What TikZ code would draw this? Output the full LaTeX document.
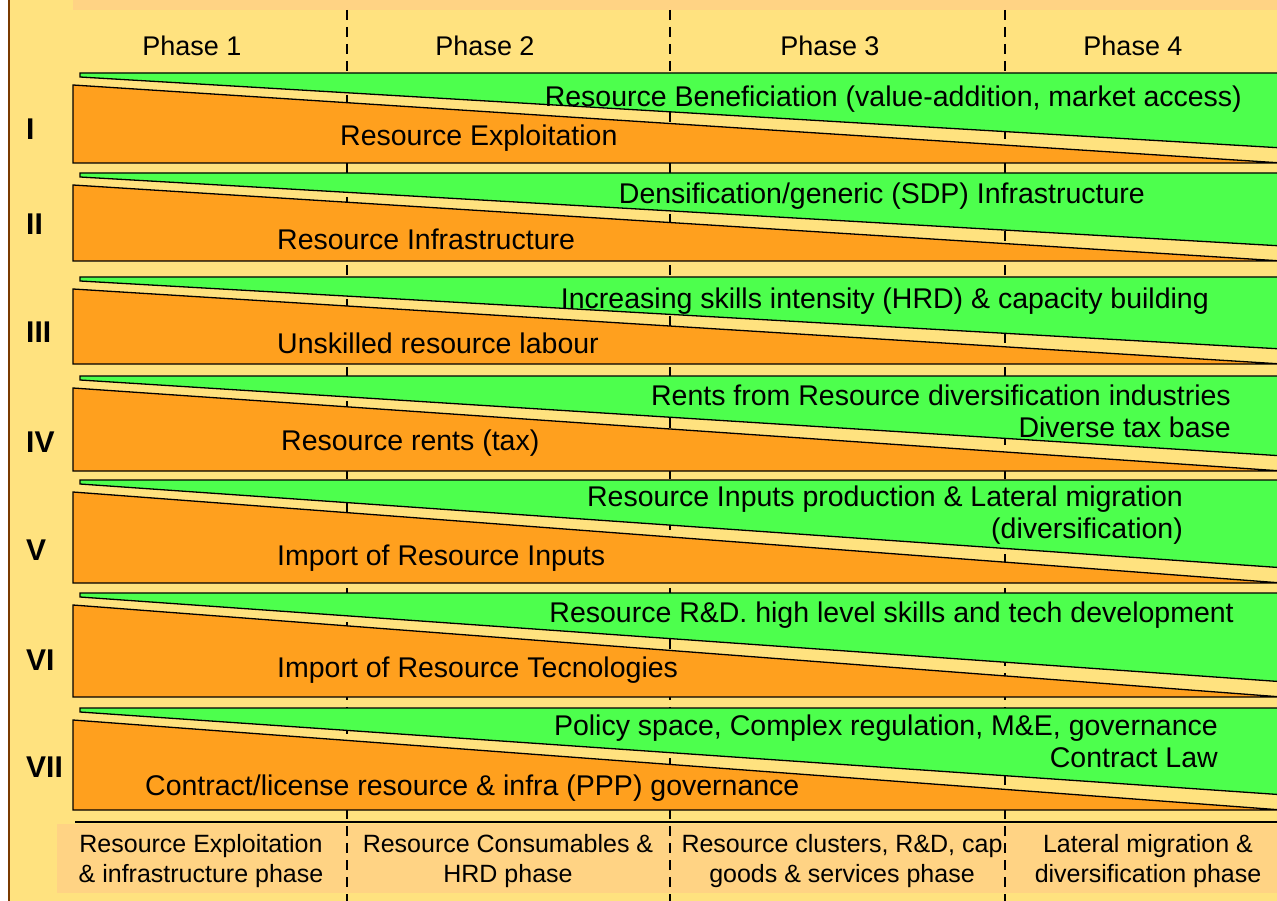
\documentclass[tikz,border=0pt]{standalone}
\usepackage{fontspec}
\setmainfont{Liberation Sans}
\definecolor{bgyellow}{HTML}{FFE27F}
\definecolor{bandorange}{HTML}{FFD384}
\definecolor{leafgreen}{HTML}{4DFF4D}
\definecolor{resorange}{HTML}{FFA01E}
\definecolor{edgebrown}{HTML}{7A3A00}

\begin{document}
\begin{tikzpicture}[x=1pt,y=-1pt,
    greenpart/.style={fill=leafgreen,draw=black,line width=1.3pt},
    orangepart/.style={fill=resorange,draw=black,line width=1.3pt},
    phaselabel/.style={font=\fontsize{27}{30}\selectfont,inner sep=0pt},
    rowtext/.style={font=\fontsize{28.5}{32}\selectfont,inner sep=0pt},
    rownum/.style={font=\fontsize{30}{32}\selectfont\bfseries,anchor=west,inner sep=0pt},
    phasefoot/.style={font=\fontsize{25}{30}\selectfont,align=center,inner sep=0pt}]
    \useasboundingbox (0,0) rectangle (1277,901);
    \clip (0,0) rectangle (1277,901);
    \fill[white] (0,0) rectangle (1277,901);
    \fill[bgyellow] (9,0) rectangle (1277,901);
    \draw[edgebrown,line width=2pt] (9,0) -- (9,901);
    \fill[bandorange] (73,0) rectangle (1277,10);
    \fill[bandorange] (57,824) rectangle (1277,893);
    % phase borders
    \foreach \xx in {347,670,1005}
        \draw[dash pattern=on 10pt off 7pt,line width=1.5pt] (\xx,10) -- (\xx,901);
    \draw[line width=1.5pt] (75,822) -- (1277,822);
    % green / orange bands
    \foreach \T/\B in {73/163,173/261,277/364,376/471,480/583,593/697,708/810} {
        \draw[greenpart] (80,\T) -- (1300,\T) -- (1300,{\B-14}) -- (80,{\T+4}) -- cycle;
        \draw[orangepart] (73,{\T+12}) -- (1282,\B) -- (73,\B) -- cycle;
    }
    \node[phaselabel] (ph1) at (192,46) {Phase 1};
    \node[phaselabel] (ph2) at (485,46) {Phase 2};
    \node[phaselabel] (ph3) at (830,46) {Phase 3};
    \node[phaselabel] (ph4) at (1133,46) {Phase 4};
    \node[rownum] (nI) at (26,129) {I};
    \node[rownum] (nII) at (26,224) {II};
    \node[rownum] (nIII) at (26,332) {III};
    \node[rownum] (nIV) at (26,442) {IV};
    \node[rownum] (nV) at (26,550) {V};
    \node[rownum] (nVI) at (26,660) {VI};
    \node[rownum] (nVII) at (26,767) {VII};
    % upper (green) texts
    \node[rowtext,anchor=east] (gI) at (1242,99) {Resource Beneficiation (value-addition, market access)};
    \node[rowtext,anchor=east] (gII) at (1145,196) {Densification/generic (SDP) Infrastructure};
    \node[rowtext,anchor=east] (gIII) at (1209,301) {Increasing skills intensity (HRD) \& capacity building};
    \node[rowtext,anchor=north east,align=right] (gIV) at (1231,385) {Rents from Resource diversification industries\\Diverse tax base};
    \node[rowtext,anchor=north east,align=right] (gV) at (1183,486) {Resource Inputs production \& Lateral migration\\(diversification)};
    \node[rowtext,anchor=east] (gVI) at (1234,615) {Resource R\&D. high level skills and tech development};
    \node[rowtext,anchor=north east,align=right] (gVII) at (1218,715) {Policy space, Complex regulation, M\&E, governance\\Contract Law};
    % lower (orange) texts
    \node[rowtext,anchor=west] (oI) at (340,138) {Resource Exploitation};
    \node[rowtext,anchor=west] (oII) at (277,239) {Resource Infrastructure};
    \node[rowtext,anchor=west] (oIII) at (277,343) {Unskilled resource labour};
    \node[rowtext,anchor=west] (oIV) at (281,443) {Resource rents (tax)};
    \node[rowtext,anchor=west] (oV) at (277,558) {Import of Resource Inputs};
    \node[rowtext,anchor=west] (oVI) at (277,670) {Import of Resource Tecnologies};
    \node[rowtext,anchor=west] (oVII) at (145,788) {Contract/license resource \& infra (PPP) governance};
    % phase descriptions
    \node[phasefoot] (f1) at (201,861) {Resource Exploitation\\\& infrastructure phase};
    \node[phasefoot] (f2) at (508,861) {Resource Consumables \&\\HRD phase};
    \node[phasefoot] (f3) at (842,861) {Resource clusters, R\&D, cap\\goods \& services phase};
    \node[phasefoot] (f4) at (1148,861) {Lateral migration \&\\diversification phase};
\end{tikzpicture}
\end{document}
